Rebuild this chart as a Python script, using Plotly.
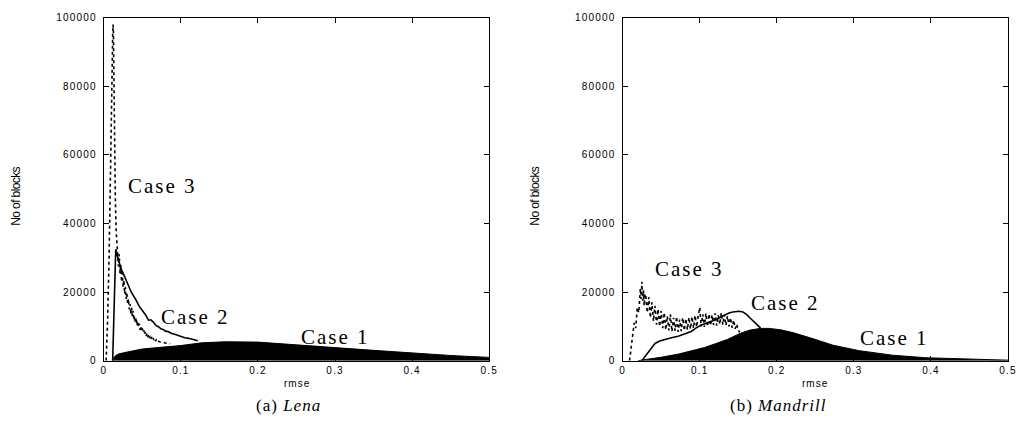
import plotly.graph_objects as go

# ---- Lena: rmse histograms (number of blocks per rmse bin) ----
lena_case1_x = [0.011, 0.013, 0.016, 0.02, 0.028, 0.04, 0.05, 0.07, 0.1, 0.127, 0.157,
                0.2, 0.243, 0.3, 0.35, 0.4, 0.45, 0.5]
lena_case1_y = [0, 900, 1600, 2000, 2400, 3000, 3400, 3800, 4400, 5200, 5500,
                5400, 4800, 3800, 3000, 2200, 1500, 950]

lena_case2_x = [0.0115, 0.013, 0.0145, 0.0155, 0.017, 0.019, 0.022, 0.025, 0.028, 0.032,
                0.036, 0.041, 0.046, 0.050, 0.054, 0.058, 0.061, 0.064, 0.068, 0.071,
                0.074, 0.077, 0.080, 0.084, 0.088, 0.092, 0.097, 0.101, 0.105, 0.110,
                0.114, 0.118, 0.122]
lena_case2_y = [0, 12000, 26000, 32500, 31000, 29000, 27000, 25500, 24000, 21500,
                19800, 18000, 15800, 14600, 13400, 11800, 11900, 11300, 10200, 9900,
                9300, 9100, 8600, 8400, 7900, 7700, 7300, 7100, 6700, 6500,
                6200, 6000, 5800]

lena_case3_x = [0.003, 0.005, 0.007, 0.009, 0.0105, 0.0115, 0.012, 0.0125, 0.013, 0.0135,
                0.014, 0.015, 0.016, 0.017, 0.018, 0.019, 0.020, 0.021, 0.022, 0.023,
                0.024, 0.025, 0.026, 0.027, 0.028, 0.029, 0.030, 0.031, 0.032, 0.033,
                0.034, 0.035, 0.036, 0.037, 0.038, 0.039, 0.040, 0.041, 0.042, 0.043,
                0.044, 0.045, 0.046, 0.047, 0.048, 0.049, 0.050, 0.051, 0.052, 0.053,
                0.054, 0.055, 0.056, 0.057, 0.058, 0.059, 0.060, 0.061, 0.062, 0.063,
                0.064, 0.065, 0.066, 0.067, 0.068, 0.069, 0.070, 0.074, 0.078, 0.082,
                0.086]
lena_case3_y = [0, 12000, 32000, 55000, 80000, 95000, 98000, 96000, 85000, 70000,
                60000, 47000, 38000, 33000, 31500, 27500, 31000, 25500, 28000, 23000,
                25500, 21500, 23500, 19500, 21500, 18000, 19500, 16500, 18000, 15000,
                16500, 13500, 15500, 13000, 14500, 11800, 13000, 11000, 12500, 10200,
                11500, 9800, 10800, 9000, 10000, 8600, 9400, 8200, 8800, 7600,
                8400, 7200, 7900, 6900, 7600, 6600, 7200, 6300, 6900, 6100,
                6600, 5900, 6300, 5700, 6000, 5500, 5800, 5300, 5200, 5000,
                4900]

# ---- Mandrill ----
mand_case1_x = [0.02, 0.03, 0.05, 0.072, 0.09, 0.106, 0.12, 0.136, 0.153, 0.165, 0.179,
                0.19, 0.205, 0.222, 0.247, 0.273, 0.307, 0.35, 0.393, 0.435, 0.478, 0.5]
mand_case1_y = [0, 300, 1000, 1900, 2800, 3800, 4900, 6200, 8000, 8900, 9400,
                9400, 9000, 8100, 6400, 4500, 2900, 1600, 850, 470, 280, 150]

mand_case2_x = [0.025, 0.030, 0.036, 0.042, 0.048, 0.055, 0.062, 0.072, 0.080, 0.089,
                0.095, 0.102, 0.108, 0.115, 0.121, 0.128, 0.133, 0.138, 0.143, 0.147,
                0.151, 0.156, 0.161, 0.166, 0.172, 0.179]
mand_case2_y = [0, 1500, 3300, 5000, 5700, 6200, 6600, 7100, 7800, 8500,
                9500, 10400, 10800, 11400, 12000, 12800, 13400, 13900, 14200, 14400,
                14400, 14200, 13400, 12300, 11000, 9500]

mand_case3_x = [0.009, 0.011, 0.013, 0.015, 0.017, 0.019, 0.021, 0.023, 0.024, 0.025,
                0.026, 0.027, 0.028, 0.029, 0.030, 0.032, 0.034, 0.036, 0.038, 0.040,
                0.042, 0.044, 0.046, 0.048, 0.050, 0.052, 0.054, 0.056, 0.058, 0.060,
                0.062, 0.064, 0.066, 0.068, 0.070, 0.072, 0.074, 0.076, 0.078, 0.080,
                0.082, 0.084, 0.086, 0.088, 0.090, 0.092, 0.094, 0.096, 0.098, 0.100,
                0.102, 0.104, 0.106, 0.108, 0.110, 0.112, 0.114, 0.116, 0.118, 0.120,
                0.122, 0.124, 0.126, 0.128, 0.130, 0.132, 0.134, 0.136, 0.138, 0.140,
                0.142, 0.144, 0.146, 0.148, 0.150, 0.152]
mand_case3_y = [0, 3500, 7000, 11000, 9500, 15500, 14000, 21000, 18000, 23000,
                17500, 20500, 16000, 19500, 19000, 14000, 18500, 12500, 17000, 11500,
                16000, 10500, 15000, 10000, 14500, 9500, 14000, 9000, 13000, 8800,
                13500, 8500, 12500, 8700, 12800, 8400, 12000, 8600, 12500, 8800,
                12200, 9000, 12600, 9200, 12800, 9500, 13200, 9800, 13000, 15500,
                10000, 13500, 9800, 13800, 10000, 13600, 10200, 13400, 10400, 13800,
                10200, 13200, 10600, 13900, 10500, 13400, 10300, 13000, 10000, 12500,
                9600, 11800, 9300, 10600, 8800, 8300]

# tick labels
x_ticks = [0, 0.1, 0.2, 0.3, 0.4, 0.5]
x_tick_text = ["0", "0.1", "0.2", "0.3", "0.4", "0.5"]
y_ticks = [0, 20000, 40000, 60000, 80000, 100000]
y_tick_text = ["0", "20000", "40000", "60000", "80000", "100000"]

case_labels = ["Case 1", "Case 2", "Case 3"]
lena_label_pos = [(0.300, 6800), (0.119, 12800), (0.0756, 50800)]
mand_label_pos = [(0.3526, 6500), (0.2115, 16800), (0.087, 26700)]
captions = ["(a) <i>Lena</i>", "(b) <i>Mandrill</i>"]

W, H = 1021, 429
SANS = "Liberation Sans"
SERIF = "Liberation Serif"


def spaced(text, px):
    return f'<span style="letter-spacing:{px}px">{text}</span>'


def px_x(p):
    return p / W


def px_y(p):
    return 1 - p / H


fig = go.Figure()

panels = [
    ("x", "y", lena_case1_x, lena_case1_y, lena_case2_x, lena_case2_y, lena_case3_x, lena_case3_y),
    ("x2", "y2", mand_case1_x, mand_case1_y, mand_case2_x, mand_case2_y, mand_case3_x, mand_case3_y),
]
for xa, ya, c1x, c1y, c2x, c2y, c3x, c3y in panels:
    fig.add_trace(go.Scatter(x=c1x, y=c1y, xaxis=xa, yaxis=ya, mode="lines",
                             fill="tozeroy", fillcolor="black",
                             line=dict(color="black", width=1), showlegend=False))
    fig.add_trace(go.Scatter(x=c3x, y=c3y, xaxis=xa, yaxis=ya, mode="lines",
                             line=dict(color="black", width=1.6, dash="dot"), showlegend=False))
    fig.add_trace(go.Scatter(x=c2x, y=c2y, xaxis=xa, yaxis=ya, mode="lines",
                             line=dict(color="black", width=1.6), showlegend=False))

axis_common = dict(
    showgrid=False, zeroline=False, showline=True, linecolor="black", linewidth=1,
    mirror="allticks", ticks="inside", ticklen=5, tickcolor="black", tickwidth=1,
    tickfont=dict(family=SANS, size=10, color="black"),
)
x_text = [spaced(t, 1.2) for t in x_tick_text]
y_text = [spaced(t, 1.2) for t in y_tick_text]

ydom = [px_y(365), px_y(13)]
fig.update_layout(
    width=W, height=H, margin=dict(l=0, r=0, t=0, b=0),
    paper_bgcolor="white", plot_bgcolor="white",
    xaxis=dict(domain=[px_x(102), px_x(492)], range=[0, 0.5], anchor="y",
               tickmode="array", tickvals=x_ticks, ticktext=x_text, **axis_common),
    yaxis=dict(domain=ydom, range=[0, 100000], anchor="x",
               tickmode="array", tickvals=y_ticks, ticktext=y_text,
               ticklabelstandoff=4, **axis_common),
    xaxis2=dict(domain=[px_x(627), px_x(1017)], range=[0, 0.5], anchor="y2",
                tickmode="array", tickvals=x_ticks, ticktext=x_text, **axis_common),
    yaxis2=dict(domain=ydom, range=[0, 100000], anchor="x2",
                tickmode="array", tickvals=y_ticks, ticktext=y_text,
                ticklabelstandoff=4, **axis_common),
)

ann = []
# curve labels
for (xr, yr), pos in (("x", "y"), lena_label_pos), (("x2", "y2"), mand_label_pos):
    for label, (lx, ly) in zip(case_labels, pos):
        ann.append(dict(x=lx, y=ly, xref=xr, yref=yr, text=spaced(label, 2),
                        showarrow=False, xanchor="center", yanchor="middle",
                        font=dict(family=SERIF, size=21, color="black")))

# axis titles and captions
for cx_title, cx_ylab, cx_cap, cap in ((297, 13, 289, captions[0]), (822, 538, 785, captions[1])):
    ann.append(dict(x=px_x(cx_title), y=px_y(388), xref="paper", yref="paper",
                    text=spaced("rmse", 1), showarrow=False, xanchor="center", yanchor="middle",
                    font=dict(family=SANS, size=10, color="black")))
    ann.append(dict(x=px_x(cx_ylab), y=px_y(196), xref="paper", yref="paper",
                    text=spaced("No of blocks", -0.6), textangle=-90, showarrow=False,
                    xanchor="center", yanchor="middle",
                    font=dict(family=SANS, size=12, color="black")))
    ann.append(dict(x=px_x(cx_cap), y=px_y(411), xref="paper", yref="paper",
                    text=spaced(cap, 1), showarrow=False, xanchor="center", yanchor="middle",
                    font=dict(family=SERIF, size=17, color="black")))

fig.update_layout(annotations=ann)
fig.write_html("out.html")
